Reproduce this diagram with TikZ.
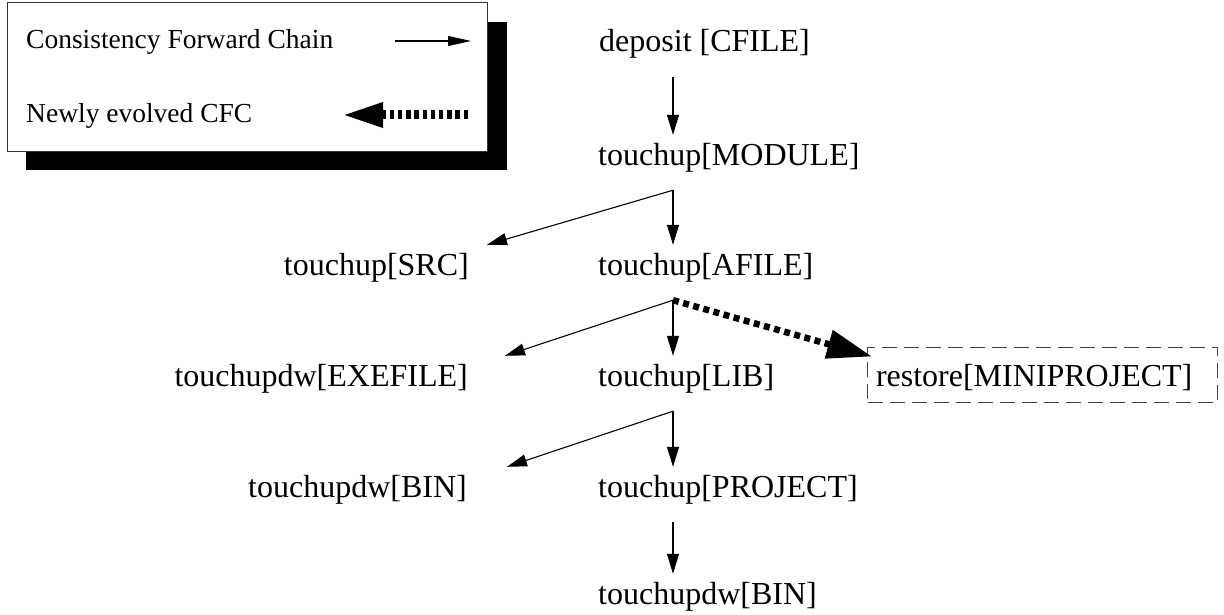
\documentclass[tikz,border=0pt]{standalone}
\usepackage{fontspec}
\setmainfont{Liberation Serif}
\usetikzlibrary{arrows.meta}
\tikzset{
  lbl/.style={font=\fontsize{32}{38}\selectfont, inner xsep=0pt, inner ysep=8pt, text height=22pt, text depth=17pt},
  leglbl/.style={font=\fontsize{27.5}{33}\selectfont, inner sep=0pt, anchor=base west},
  cfc/.style={line width=1.1pt, -{Triangle[length=20pt,width=12pt]}},
  newcfc/.style={line width=6.5pt, dash pattern=on 6pt off 4.5pt, -{Triangle[length=45pt,width=28pt]}},
  legcfc/.style={line width=1.1pt, -{Triangle[length=23pt,width=10pt]}},
  legnew/.style={line width=9pt, dash pattern=on 4.5pt off 3.7pt, -{Triangle[length=41pt,width=23pt]}},
  dashbox/.style={draw=black!75, line width=1pt, dash pattern=on 15pt off 7pt,
    font=\fontsize{32}{38}\selectfont, text width=333pt, inner xsep=8.5pt, inner ysep=15pt,
    text height=24pt, text depth=1pt, align=left}
}
\begin{document}
\begin{tikzpicture}[x=1pt,y=-1pt]
\useasboundingbox (0,0) rectangle (1224,615);
% legend
\fill[black] (26,22) rectangle (507,170);
\draw[fill=white, draw=black!80, line width=1pt] (7,3) rectangle (487,152);
\node[leglbl] (l1) at (26,49) {Consistency Forward Chain};
\node[leglbl] (l2) at (26,123) {Newly evolved CFC};
\coordinate (la1) at (395,41);
\coordinate (lb1) at (471,41);
\coordinate (la2) at (468,115);
\coordinate (lb2) at (342,115);
\draw[legcfc] (la1) -- (lb1);
\draw[legnew] (la2) -- (lb2);
% nodes
\node[lbl, anchor=base west] (dep) at (599,52) {deposit [CFILE]};
\node[lbl, anchor=base west] (mod) at (598,165) {touchup[MODULE]};
\node[lbl, anchor=base west] (afile) at (598,275) {touchup[AFILE]};
\node[lbl, anchor=base west] (lib) at (598,386) {touchup[LIB]};
\node[lbl, anchor=base west] (proj) at (598,497) {touchup[PROJECT]};
\node[lbl, anchor=base west] (bin2) at (598,604) {touchupdw[BIN]};
\node[lbl, anchor=base east] (src) at (469,275) {touchup[SRC]};
\node[lbl, anchor=base east] (exe) at (468,386) {touchupdw[EXEFILE]};
\node[lbl, anchor=base east] (bin1) at (467,497) {touchupdw[BIN]};
\node[dashbox, anchor=base west] (rest) at (867,386) {restore[MINIPROJECT]};
\coordinate (col) at (673,0);
% connectors
\draw[cfc] (dep.south -| col) -- (mod.north -| col);
\draw[cfc] (mod.south -| col) -- (afile.north -| col);
\draw[cfc] (mod.south -| col) -- ([xshift=18pt]src.north east);
\draw[cfc] (afile.south -| col) -- (lib.north -| col);
\draw[cfc] (afile.south -| col) -- ([xshift=37pt]exe.north east);
\draw[newcfc] (afile.south -| col) -- ([xshift=5pt,yshift=-10pt]rest.north west);
\draw[cfc] (lib.south -| col) -- (proj.north -| col);
\draw[cfc] (lib.south -| col) -- ([xshift=40pt]bin1.north east);
\draw[cfc] (proj.south -| col) -- (bin2.north -| col);
\end{tikzpicture}
\end{document}
